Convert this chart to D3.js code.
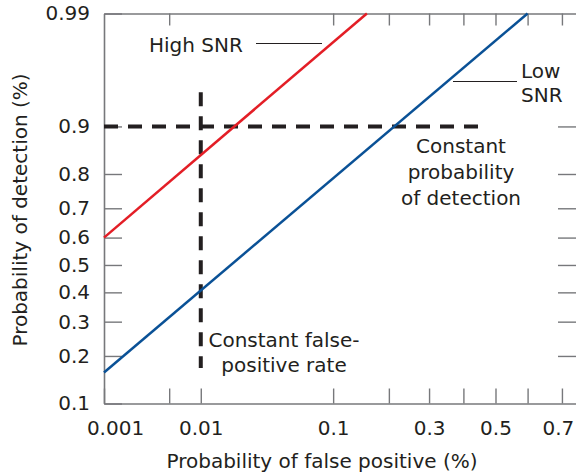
<!DOCTYPE html>
<html>
<head>
<meta charset="utf-8">
<script src="https://cdn.jsdelivr.net/npm/d3@7"></script>
<style>
  body { margin: 0; background: #fff; }
  svg text { font-family: "DejaVu Sans", sans-serif; fill: #231f20; }
</style>
</head>
<body>
<div id="chart"></div>
<script>
// Chart size and plot box (right edge sits just outside the picture)
const WIDTH = 576, HEIGHT = 476;
const MARGIN = { left: 104, right: -1, top: 13.5, bottom: 72.5 };
const FONT_SIZE = 20;

// Axis ranges (probabilities)
const xDomain = [0.001, 0.74];
const yDomain = [0.1, 0.99];

// Tick values
const xBottomTicks = [0.001, 0.005, 0.01, 0.1, 0.2, 0.3, 0.4, 0.5, 0.6, 0.7];
const xTopTicks = [0.005, 0.1, 0.2, 0.3, 0.4, 0.5, 0.6, 0.7];
const xLabels = [0.001, 0.01, 0.1, 0.3, 0.5, 0.7];
const yLeftTicks = [0.1, 0.2, 0.3, 0.4, 0.5, 0.6, 0.7, 0.8, 0.9, 0.99];
const yRightTicks = [0.2, 0.3, 0.4, 0.5, 0.6, 0.7, 0.8, 0.9];

// ROC lines: [false positive, detection] end points
const highSNR = [[0.001, 0.6], [0.155, 0.99]];
const lowSNR = [[0.001, 0.16], [0.6, 0.99]];

// Dashed reference lines
const constDetection = [[0.001, 0.9], [0.45, 0.9]];
const constFalsePos = [[0.01, 0.945], [0.01, 0.17]];

// Inverse normal CDF (Acklam's approximation) for normal probability paper
function probit(p) {
  const a = [-3.969683028665376e+01, 2.209460984245205e+02, -2.759285104469687e+02, 1.383577518672690e+02, -3.066479806614716e+01, 2.506628277459239e+00];
  const b = [-5.447609879822406e+01, 1.615858368580409e+02, -1.556989798598866e+02, 6.680131188771972e+01, -1.328068155288572e+01];
  const c = [-7.784894002430293e-03, -3.223964580411365e-01, -2.400758277161838e+00, -2.549732539343734e+00, 4.374664141464968e+00, 2.938163982698783e+00];
  const d = [7.784695709041462e-03, 3.224671290700398e-01, 2.445134137142996e+00, 3.754408661907416e+00];
  const plow = 0.02425, phigh = 1 - plow;
  let q, r;
  if (p < plow) {
    q = Math.sqrt(-2 * Math.log(p));
    return (((((c[0]*q+c[1])*q+c[2])*q+c[3])*q+c[4])*q+c[5]) / ((((d[0]*q+d[1])*q+d[2])*q+d[3])*q+1);
  }
  if (p <= phigh) {
    q = p - 0.5; r = q * q;
    return (((((a[0]*r+a[1])*r+a[2])*r+a[3])*r+a[4])*r+a[5])*q / (((((b[0]*r+b[1])*r+b[2])*r+b[3])*r+b[4])*r+1);
  }
  q = Math.sqrt(-2 * Math.log(1 - p));
  return -(((((c[0]*q+c[1])*q+c[2])*q+c[3])*q+c[4])*q+c[5]) / ((((d[0]*q+d[1])*q+d[2])*q+d[3])*q+1);
}

// A small probit scale that d3.axis can use
function scaleProbit(domain, range) {
  const lin = d3.scaleLinear().domain(domain.map(probit)).range(range);
  const s = p => lin(probit(p));
  s.domain = () => domain.slice();
  s.range = () => lin.range();
  s.copy = () => scaleProbit(domain, range);
  return s;
}

const x = scaleProbit(xDomain, [MARGIN.left, WIDTH - MARGIN.right]);
const y = scaleProbit(yDomain, [HEIGHT - MARGIN.bottom, MARGIN.top]);

const svg = d3.select('#chart')
  .append('svg')
  .attr('width', WIDTH)
  .attr('height', HEIGHT);

function styleAxis(g) {
  g.attr('font-size', FONT_SIZE)
    .attr('font-family', null)
    .style('color', '#77787b');
  g.select('.domain').attr('stroke-width', 1.6);
  g.selectAll('.tick line').attr('stroke-width', 1.4);
}

// Bottom axis
const bottom = svg.append('g')
  .attr('transform', `translate(0, ${HEIGHT - MARGIN.bottom})`)
  .call(d3.axisBottom(x)
    .tickValues(xBottomTicks)
    .tickSizeInner(-15)
    .tickSizeOuter(0)
    .tickPadding(17)
    .tickFormat(d => xLabels.includes(d) ? String(d) : ''))
  .call(styleAxis);
// first and last labels are nudged away from the picture's edges
bottom.selectAll('.tick text').filter(d => d === 0.001).attr('dx', 11);
bottom.selectAll('.tick text').filter(d => d === 0.7).attr('dx', -4);

// Top axis (ticks only)
svg.append('g')
  .attr('transform', `translate(0, ${MARGIN.top})`)
  .call(d3.axisTop(x)
    .tickValues(xTopTicks)
    .tickSizeInner(-12)
    .tickSizeOuter(0)
    .tickFormat(''))
  .call(styleAxis);

// Left axis
svg.append('g')
  .attr('transform', `translate(${MARGIN.left}, 0)`)
  .call(d3.axisLeft(y)
    .tickValues(yLeftTicks)
    .tickSizeInner(-18)
    .tickSizeOuter(0)
    .tickPadding(14)
    .tickFormat(d => String(d)))
  .call(styleAxis);

// Right axis (ticks only)
svg.append('g')
  .attr('transform', `translate(${WIDTH - MARGIN.right}, 0)`)
  .call(d3.axisRight(y)
    .tickValues(yRightTicks)
    .tickSizeInner(-19)
    .tickSizeOuter(0)
    .tickFormat(''))
  .call(styleAxis);

const line = d3.line()
  .x(d => x(d[0]))
  .y(d => y(d[1]));

// Dashed reference lines
[constDetection, constFalsePos].forEach(data => {
  svg.append('path')
    .datum(data)
    .attr('d', line)
    .attr('fill', 'none')
    .attr('stroke', '#231f20')
    .attr('stroke-width', 4)
    .attr('stroke-dasharray', '14 10');
});

// ROC lines
svg.append('path')
  .datum(highSNR)
  .attr('d', line)
  .attr('fill', 'none')
  .attr('stroke', '#e31e26')
  .attr('stroke-width', 2.5);

svg.append('path')
  .datum(lowSNR)
  .attr('d', line)
  .attr('fill', 'none')
  .attr('stroke', '#0a5196')
  .attr('stroke-width', 2.5);

// Annotations
const notes = svg.append('g').attr('font-size', FONT_SIZE);

notes.append('text').attr('x', 149).attr('y', 52).text('High SNR');
notes.append('line').attr('x1', 256).attr('x2', 322).attr('y1', 43.5).attr('y2', 43.5)
  .attr('stroke', '#231f20').attr('stroke-width', 1.2);

notes.append('text').attr('x', 521).attr('y', 78).text('Low');
notes.append('text').attr('x', 521).attr('y', 102).text('SNR');
notes.append('line').attr('x1', 453).attr('x2', 517).attr('y1', 81.5).attr('y2', 81.5)
  .attr('stroke', '#231f20').attr('stroke-width', 1.2);

['Constant', 'probability', 'of detection'].forEach((t, i) => {
  notes.append('text')
    .attr('x', 461).attr('y', 153 + i * 26)
    .attr('text-anchor', 'middle')
    .text(t);
});

['Constant false-', 'positive rate'].forEach((t, i) => {
  notes.append('text')
    .attr('x', 284).attr('y', 347 + i * 25)
    .attr('text-anchor', 'middle')
    .text(t);
});

// Axis titles
svg.append('text')
  .attr('x', 322).attr('y', 468)
  .attr('text-anchor', 'middle')
  .attr('font-size', FONT_SIZE)
  .text('Probability of false positive (%)');

svg.append('text')
  .attr('transform', 'translate(27, 210) rotate(-90)')
  .attr('text-anchor', 'middle')
  .attr('font-size', FONT_SIZE)
  .text('Probability of detection (%)');
</script>
</body>
</html>
